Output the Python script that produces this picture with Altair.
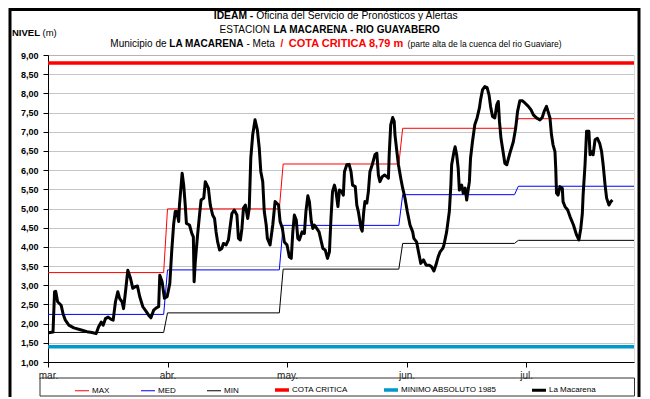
import altair as alt
import pandas as pd

FONT = "Liberation Sans, Arial, sans-serif"

# ---------------- data ----------------
month_labels = ["mar.", "abr.", "may.", "jun.", "jul."]
tick_days = [0, 31, 62, 93, 124]
month_start = [0, 31, 61, 92, 122]
month_end = [30, 60, 91, 121, 152]
max_vals = [3.33, 4.99, 6.16, 7.09, 7.34]
med_vals = [2.24, 3.40, 4.56, 5.36, 5.58]
min_vals = [1.77, 2.28, 3.42, 4.09, 4.17]
cota_critica = 8.79
minimo_absoluto = 1.40

serie_names = ["MAX", "MED", "MIN", "COTA CRITICA", "MINIMO ABSOLUTO 1985", "La Macarena"]
serie_colors = ["#FF0000", "#0000FF", "#000000", "#FF0000", "#0099CC", "#000000"]
serie_widths = [1, 1, 1, 3.5, 3.5, 3]

mac_day = [0.2, 1.3, 1.7, 2.0, 2.5, 3.4, 3.9, 4.5, 5.4, 6.7, 8.4, 10.1, 11.4, 12.5, 13.1, 13.8,
           14.3, 14.9, 15.6, 16.4, 16.9, 17.5, 18.1, 18.6, 19.2, 19.6, 20.1, 20.7, 21.4, 22.0,
           22.6, 23.2, 23.8, 24.6, 25.5, 26.1, 26.7, 27.4, 28.1, 28.7, 29.0, 29.6, 30.2, 30.9,
           31.6, 32.1, 32.6, 33.0, 33.4, 33.9, 34.1, 34.8, 35.2, 35.6, 35.9, 36.7, 37.3, 37.7,
           37.9, 38.2, 38.8, 39.3, 39.7, 40.4, 40.8, 41.6, 42.1, 42.7, 43.2, 43.6, 44.0, 44.5,
           45.1, 45.5, 46.2, 46.8, 47.3, 47.7, 48.3, 49.0, 49.4, 49.9, 50.3, 50.7, 51.2, 51.8,
           52.2, 52.6, 53.1, 53.7, 54.3, 54.8, 55.2, 55.7, 56.1, 56.6, 56.9, 57.6, 58.3, 58.9,
           59.8, 60.2, 60.8, 61.3, 62.0, 62.6, 63.1, 63.5, 63.9, 64.4, 64.8, 65.2, 65.9, 66.5,
           66.9, 67.4, 67.8, 68.3, 68.7, 69.1, 69.7, 70.3, 70.9, 71.3, 71.9, 72.5, 73.0, 73.4,
           73.8, 74.3, 74.7, 75.2, 75.6, 76.2, 76.6, 76.9, 77.5, 78.1, 78.6, 79.0, 79.7, 80.1,
           80.5, 81.2, 81.5, 81.9, 82.2, 82.7, 83.1, 83.5, 84.1, 84.8, 85.3, 85.7, 86.1, 86.7,
           87.3, 87.9, 88.3, 88.5, 88.9, 89.4, 89.8, 90.0, 90.5, 90.9, 91.5, 92.0, 92.6, 93.2,
           93.9, 94.6, 94.9, 95.6, 96.1, 96.7, 97.4, 98.1, 98.9, 99.5, 100.1, 100.6, 101.2,
           101.7, 102.4, 102.7, 103.4, 104.1, 104.5, 104.7, 105.3, 105.6, 106.0, 106.4, 106.7,
           107.3, 107.7, 108.2, 108.6, 109.3, 109.6, 110.1, 110.7, 111.3, 111.9, 112.2, 112.7,
           113.3, 113.9, 114.4, 114.8, 115.3, 115.9, 116.4, 116.8, 117.1, 117.5, 117.9, 118.5,
           119.0, 119.8, 120.7, 121.3, 121.8, 122.4, 123.0, 123.7, 124.6, 125.3, 125.9, 126.7,
           127.6, 128.2, 128.7, 129.3, 129.7, 130.2, 130.6, 131.0, 131.5, 131.7, 131.9, 132.3,
           132.8, 133.4, 133.6, 134.1, 134.8, 135.4, 136.3, 137.1, 137.7, 138.2, 138.6, 138.8,
           139.3, 139.7, 140.3, 140.6, 141.0, 141.4, 141.9, 142.5, 143.1, 143.6, 144.0, 144.5,
           144.9, 145.5, 146.0, 146.4]
mac_level = [1.76, 1.78, 2.83, 2.84, 2.57, 2.48, 2.26, 2.09, 1.96, 1.89, 1.84, 1.79, 1.77, 1.74,
             1.91, 2.04, 1.96, 2.13, 2.17, 2.11, 2.09, 2.57, 2.83, 2.65, 2.57, 2.39, 2.83, 3.39,
             3.18, 2.92, 2.96, 2.98, 2.70, 2.44, 2.31, 2.22, 2.15, 2.35, 2.41, 2.44, 3.26, 3.09,
             2.66, 2.70, 3.05, 3.90, 4.60, 4.92, 4.92, 4.66, 5.09, 5.92, 5.61, 5.09, 4.61, 4.57,
             4.35, 4.26, 3.09, 3.61, 4.31, 4.83, 5.22, 5.27, 5.70, 5.53, 5.09, 4.83, 4.74, 4.39,
             4.13, 3.92, 3.96, 4.09, 4.05, 4.18, 4.57, 4.87, 4.96, 4.83, 4.22, 4.18, 4.48, 5.01,
             5.09, 4.74, 5.01, 6.31, 6.92, 7.31, 7.05, 6.57, 5.96, 5.70, 4.92, 4.57, 4.22, 4.05,
             4.57, 5.18, 5.09, 4.66, 4.48, 4.13, 4.05, 3.74, 3.70, 4.39, 4.83, 4.70, 4.22, 4.18,
             4.39, 4.35, 4.92, 5.33, 5.18, 4.66, 4.48, 4.57, 4.48, 4.39, 4.13, 3.96, 3.92, 3.70,
             3.87, 4.74, 5.44, 5.61, 5.44, 5.05, 5.48, 5.44, 5.35, 5.96, 6.14, 6.15, 5.96, 5.61,
             5.57, 5.09, 4.92, 4.48, 4.41, 4.92, 5.18, 5.14, 5.44, 5.96, 6.14, 6.40, 6.44, 5.87,
             5.70, 5.83, 5.87, 5.83, 5.79, 6.40, 7.18, 7.37, 7.27, 6.92, 6.48, 6.14, 5.79, 5.53,
             5.27, 4.92, 4.57, 4.39, 4.22, 4.13, 3.87, 3.57, 3.66, 3.52, 3.52, 3.48, 3.37, 3.52,
             3.74, 3.87, 3.96, 4.05, 4.39, 4.92, 5.61, 6.14, 6.48, 6.61, 6.40, 6.05, 5.48, 5.61,
             5.40, 5.53, 5.22, 5.70, 6.31, 6.74, 7.18, 7.36, 7.62, 7.83, 8.09, 8.18, 8.15, 7.96,
             7.66, 7.40, 7.36, 7.70, 7.79, 7.27, 6.83, 6.57, 6.18, 6.14, 6.44, 6.74, 7.09, 7.53,
             7.81, 7.81, 7.75, 7.66, 7.57, 7.44, 7.36, 7.31, 7.37, 7.53, 7.66, 7.53, 7.36, 6.92,
             6.66, 6.48, 6.05, 5.40, 5.35, 5.57, 5.53, 5.18, 5.05, 4.96, 4.79, 4.57, 4.31, 4.18,
             4.48, 4.87, 5.35, 6.14, 7.01, 7.01, 6.40, 6.48, 6.40, 6.79, 6.83, 6.70, 6.48, 6.14,
             5.61, 5.27, 5.09, 5.18, 5.22]

# ---------------- tables ----------------
rows = []
for name, vals in (("MAX", max_vals), ("MED", med_vals), ("MIN", min_vals)):
    for s, e, v in zip(month_start, month_end, vals):
        rows.append({"day": s, "nivel": v, "serie": name})
        rows.append({"day": e, "nivel": v, "serie": name})
for name, v in (("COTA CRITICA", cota_critica), ("MINIMO ABSOLUTO 1985", minimo_absoluto)):
    rows.append({"day": month_start[0], "nivel": v, "serie": name})
    rows.append({"day": month_end[-1], "nivel": v, "serie": name})
ref_df = pd.DataFrame(rows)
mac_df = pd.DataFrame({"day": mac_day, "nivel": mac_level, "serie": "La Macarena"})

label_expr = "{}[indexof({}, datum.value)]".format(
    "[" + ",".join("'%s'" % m for m in month_labels) + "]",
    "[" + ",".join(str(t) for t in tick_days) + "]")

x_enc = alt.X("day:Q",
              scale=alt.Scale(domain=[month_start[0], month_end[-1]], nice=False, zero=False),
              axis=alt.Axis(values=tick_days, labelExpr=label_expr, title=None, grid=False,
                            labelFont=FONT, labelFontSize=10, labelColor="#222",
                            labelFlush=False, labelOverlap=False, labelAlign="center",
                            tickSize=5, tickColor="black", domainColor="black",
                            labelPadding=3))
y_enc = alt.Y("nivel:Q",
              scale=alt.Scale(domain=[1, 9], nice=False, zero=False),
              axis=alt.Axis(values=[1 + 0.5 * i for i in range(17)],
                            labelExpr="replace(format(datum.value, '.2f'), '.', ',')",
                            title=None, grid=True, gridColor="#8a8a8a", gridDash=[1, 1],
                            labelFont=FONT, labelFontSize=9, labelFontWeight="bold",
                            labelOverlap=False, labelFlush=False,
                            labelColor="black", tickSize=5, tickColor="black",
                            domainColor="black", labelPadding=5))

legend = alt.Legend(title=None, orient="none", legendX=25, legendY=326, direction="horizontal",
                    columns=6, columnPadding=29, symbolType="stroke", symbolSize=196,
                    labelFont=FONT, labelFontSize=8, labelColor="black", labelOffset=1,
                    padding=0, labelLimit=300)
color_enc = alt.Color("serie:N", scale=alt.Scale(domain=serie_names, range=serie_colors),
                      legend=legend)
width_enc = alt.StrokeWidth("serie:N",
                            scale=alt.Scale(type="ordinal", domain=serie_names, range=serie_widths),
                            legend=legend)

ref_layer = alt.Chart(ref_df).mark_line(clip=True).encode(
    x=x_enc, y=y_enc, color=color_enc, strokeWidth=width_enc, order="day:Q")
mac_layer = alt.Chart(mac_df).mark_line(clip=True, strokeJoin="round").encode(
    x=x_enc, y=y_enc, color=color_enc, strokeWidth=width_enc, order="day:Q")

one = pd.DataFrame({"a": [0]})

# Arial / Liberation Sans advance widths (1/1000 em)
REG = {" ": 278, "(": 333, ")": 333, ",": 278, "-": 333, ".": 278, "/": 278}
BOLD = dict(REG)
for ch in "0123456789":
    REG[ch] = BOLD[ch] = 556
for ch, w in zip("ABCDEFGHIJKLMNOPQRSTUVWXYZ",
                 [667, 667, 722, 722, 667, 611, 778, 722, 278, 500, 667, 556, 833, 722, 778, 667,
                  778, 722, 667, 611, 722, 667, 944, 667, 667, 611]):
    REG[ch] = w
for ch, w in zip("ABCDEFGHIJKLMNOPQRSTUVWXYZ",
                 [722, 722, 722, 722, 667, 611, 778, 722, 278, 556, 722, 611, 833, 722, 778, 667,
                  778, 722, 667, 611, 722, 667, 944, 667, 667, 611]):
    BOLD[ch] = w
for ch, w in zip("abcdefghijklmnopqrstuvwxyz",
                 [556, 556, 500, 556, 556, 278, 556, 556, 222, 222, 500, 222, 833, 556, 556, 556,
                  556, 333, 500, 278, 556, 500, 722, 500, 500, 500]):
    REG[ch] = w
for ch, w in zip("abcdefghijklmnopqrstuvwxyz",
                 [556, 611, 556, 611, 556, 333, 611, 611, 278, 278, 556, 278, 889, 611, 611, 611,
                  611, 389, 556, 333, 611, 556, 778, 556, 556, 500]):
    BOLD[ch] = w
REG["ó"] = 556


def text_w(s, size, bold):
    table = BOLD if bold else REG
    return sum(table.get(c, 556) for c in s) * size / 1000.0


def txt(s, x, y, size=10, bold=False, color="black", align="left"):
    return alt.Chart(one).mark_text(
        text=s, align=align, baseline="middle", font=FONT, fontSize=size,
        fontWeight="bold" if bold else "normal", color=color
    ).encode(x=alt.value(x), y=alt.value(y))


def title_line(segments, cx, y):
    # segments: (text, size, bold, color, gap_after_in_spaces)
    widths = [text_w(t, s, b) for t, s, b, c, g in segments]
    gaps = [g * 278 * s / 1000.0 for t, s, b, c, g in segments]
    total = sum(widths) + sum(gaps[:-1])
    x = cx - total / 2.0
    out = []
    for (t, s, b, c, g), w, gp in zip(segments, widths, gaps):
        out.append(txt(t, x, y, size=s, bold=b, color=c))
        x += w + gp
    return out


def box(x1, x2, y1, y2, sw, color="black"):
    return alt.Chart(one).mark_rect(fillOpacity=0, stroke=color, strokeWidth=sw).encode(
        x=alt.value(x1), x2=alt.value(x2), y=alt.value(y1), y2=alt.value(y2))


CX = 336 - 48  # title centre, in plot coordinates
RED = "#FF0000"
texts = []
texts += title_line([("IDEAM -", 10.3, True, "black", 1),
                     ("Oficina del Servicio de Pronósticos y Alertas", 10.3, False, "black", 0)],
                    CX, -39.5)
texts += title_line([("ESTACION", 10, False, "black", 1),
                     ("LA MACARENA - RIO GUAYABERO", 10, True, "black", 0)],
                    CX - 5, -25.5)
texts += title_line([("Municipio de", 10, False, "black", 1),
                     ("LA MACARENA", 10, True, "black", 1),
                     ("- Meta", 10, False, "black", 2),
                     ("/", 10, True, RED, 2),
                     ("COTA CRITICA 8,79 m", 11, True, RED, 0.9),
                     ("(parte alta de la cuenca del rio Guaviare)", 8.5, False, "black", 0)],
                    CX, -11)
texts += [txt("NIVEL", -36, -22, size=9.5, bold=True),
          txt("(m)", -36 + text_w("NIVEL", 9.5, True) + 2.5, -22, size=9.5)]

chart = alt.layer(
    box(-38, 591, -45.5, 360, 3),
    box(-8, 586.5, 323, 341, 1, "#333333"),
    ref_layer, mac_layer, *texts
).properties(
    width=586, height=307,
    autosize=alt.AutoSizeParams(type="none"),
    padding={"left": 40, "top": 47, "right": 7, "bottom": 35},
).configure_view(stroke="black", strokeWidth=1).configure(background="white")

chart.save("out.html", embed_options={"renderer": "svg", "actions": False})
